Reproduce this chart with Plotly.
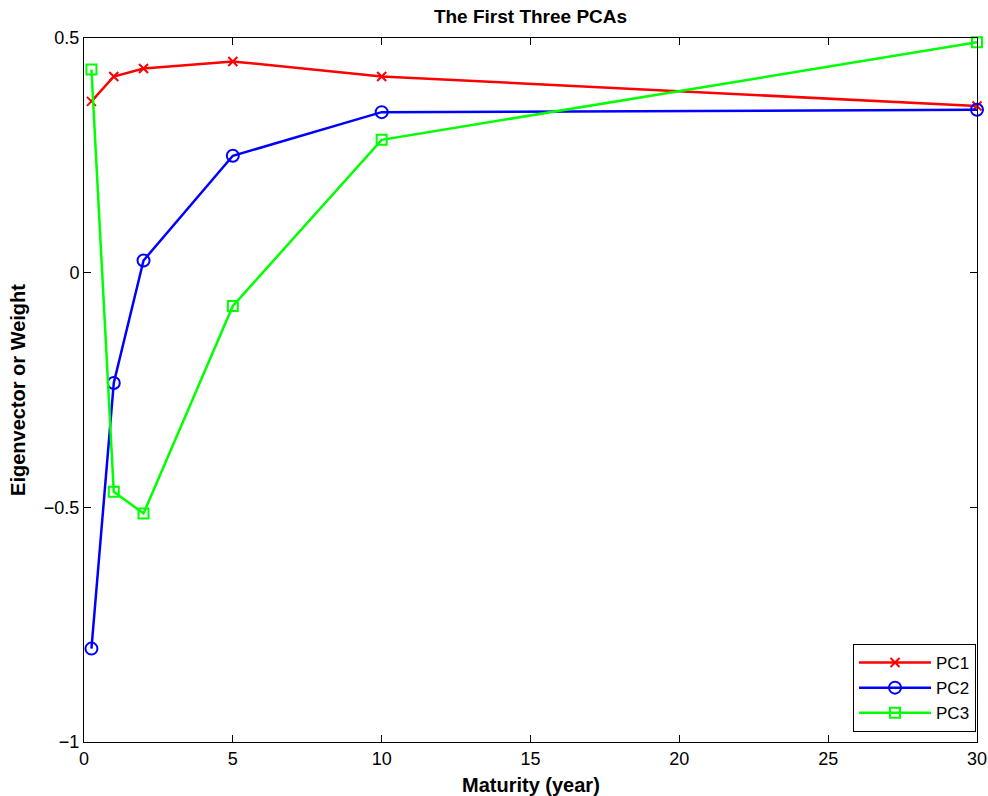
import plotly.graph_objects as go

maturity = [0.25, 1, 2, 5, 10, 30]
pc1 = [0.365, 0.418, 0.435, 0.450, 0.418, 0.355]
pc2 = [-0.801, -0.235, 0.026, 0.249, 0.342, 0.347]
pc3 = [0.433, -0.467, -0.513, -0.071, 0.283, 0.491]

fig = go.Figure()

# one trace per principal component, MATLAB-style markers
series = [
    ("PC1", pc1, "#ff0000", "x-thin", 9),
    ("PC2", pc2, "#0000ff", "circle-open", 12),
    ("PC3", pc3, "#00ff00", "square-open", 10),
]
for name, vals, color, symbol, size in series:
    fig.add_trace(go.Scatter(
        x=maturity, y=vals, name=name, mode="lines+markers",
        line=dict(color=color, width=2.5),
        marker=dict(symbol=symbol, size=size, color=color,
                    line=dict(color=color, width=2)),
        cliponaxis=False,
    ))

axis_style = dict(
    showgrid=False, zeroline=False, showline=True, linecolor="black",
    linewidth=1, mirror="ticks", ticks="inside", ticklen=7,
    tickcolor="black", tickfont=dict(size=18, color="black"),
    ticklabeloverflow="allow", automargin=False,
)

fig.update_layout(
    width=988, height=796,
    margin=dict(l=84, r=11, t=38, b=54),
    paper_bgcolor="white", plot_bgcolor="white",
    font=dict(family="Liberation Sans, Arial, sans-serif", color="black"),
    title=dict(text="<b>The First Three PCAs</b>", x=0.5, xref="paper",
               y=1 - 16 / 796, yref="container", yanchor="middle", font=dict(size=19)),
    xaxis=dict(axis_style, range=[0, 30], tickvals=[0, 5, 10, 15, 20, 25, 30]),
    yaxis=dict(axis_style, range=[-1, 0.5], tickvals=[-1, -0.5, 0, 0.5],
               title=dict(text="<b>Eigenvector or Weight</b>", font=dict(size=20), standoff=12)),
    legend=dict(x=0.9989, y=0.0142, xanchor="right", yanchor="bottom",
                bordercolor="black", borderwidth=1, bgcolor="white",
                font=dict(size=17), itemwidth=72, tracegroupgap=0),
    showlegend=True,
)

# x-axis title as an annotation so it can sit right under the tick labels
fig.add_annotation(
    text="<b>Maturity (year)</b>", xref="paper", yref="paper", x=0.5, y=0,
    xanchor="center", yanchor="top", yshift=-30, showarrow=False,
    font=dict(size=20),
)

# drop the default 8px body margin so the figure fills the window exactly
fig.write_html(
    "out.html",
    config={"displayModeBar": False},
    post_script="document.body.style.margin='0';",
)
